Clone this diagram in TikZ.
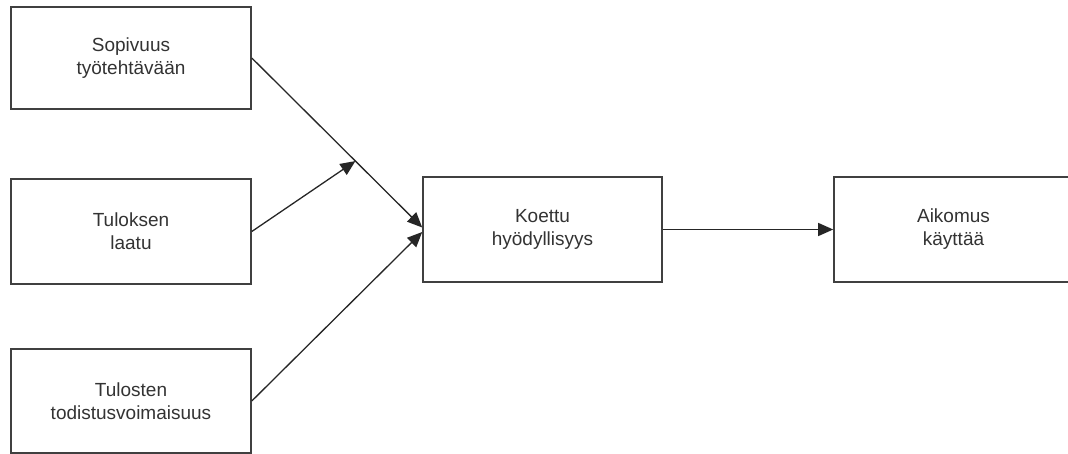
\documentclass[tikz,border=0pt]{standalone}
\usepackage{fontspec}
\setmainfont{Liberation Sans}
\usetikzlibrary{arrows.meta,calc}
\begin{document}
\begin{tikzpicture}[x=1pt,y=-1pt,
  box/.style={draw=black!75,line width=1.6pt,fill=white,rectangle,
    minimum width=240pt,inner sep=0pt,align=center,text=black!80,
    font=\fontsize{19}{23}\selectfont},
  link/.style={draw=black!85,line width=1.3pt,
    -{Triangle[length=15pt,width=13pt]}}]
  \useasboundingbox (0,0) rectangle (1068,454);
  \clip (0,0) rectangle (1068,454);
  % input factors
  \node[box,minimum height=102pt] (fit)  at (131,58)    {Sopivuus\\työtehtävään};
  \node[box,minimum height=105pt] (qual) at (131,231.5) {Tuloksen\\laatu};
  \node[box,minimum height=104pt] (demo) at (131,401)   {Tulosten\\todistusvoimaisuus};
  % mediator and outcome
  \node[box,minimum width=239pt,minimum height=105pt] (use) at (542.5,229.5) {Koettu\\hyödyllisyys};
  \node[box,minimum width=239pt,minimum height=105pt] (int) at (953.5,229.5) {Aikomus\\käyttää};
  % connectors
  \coordinate (uin1) at ($(use.west)+(0,-2)$);
  \coordinate (uin2) at ($(use.west)+(0,2.5)$);
  \coordinate (mid) at ($(fit.east)!0.608!(uin1)$);
  \draw[link] (fit.east) -- (uin1);
  \draw[link] (qual.east) -- (mid);
  \draw[link] (demo.east) -- (uin2);
  \draw[link] (use.east) -- (int.west);
\end{tikzpicture}
\end{document}
